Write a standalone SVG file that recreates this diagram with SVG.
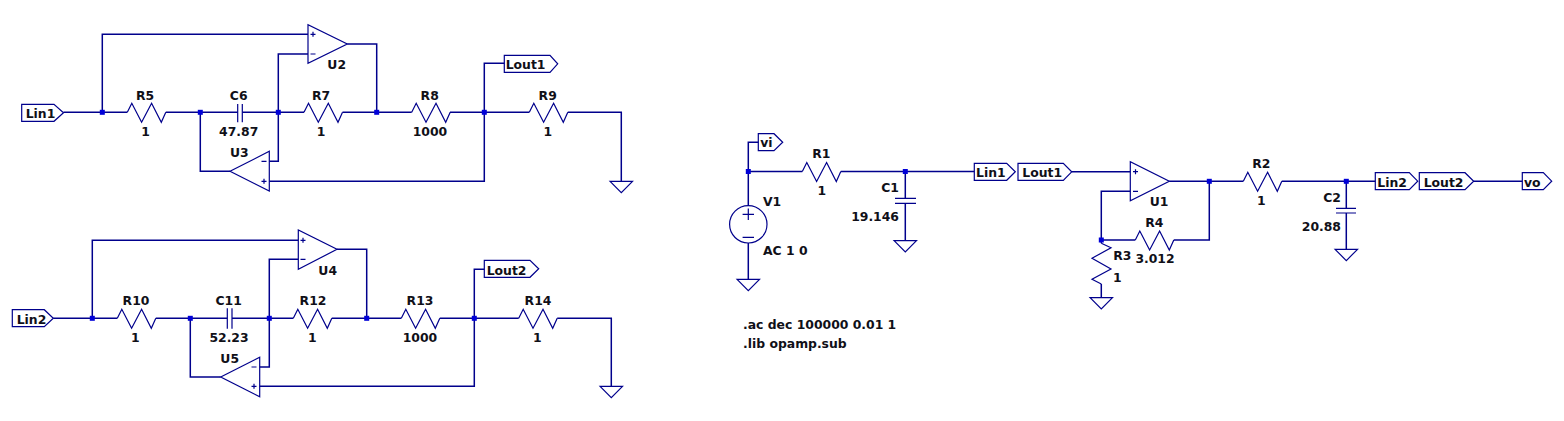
<svg xmlns="http://www.w3.org/2000/svg" width="1564" height="421" viewBox="0 0 1564 421">
<style>
.w{fill:none;stroke:#00008c;stroke-width:1.2}
#connectors path{stroke-width:1.5}
.j{fill:#0000d8;stroke:none}
text{font-family:"DejaVu Sans",Verdana,sans-serif;font-weight:bold;font-size:12.4px;fill:#101018}
.m{text-anchor:middle}
.e{text-anchor:end}
</style>
<defs>
<path id="r" class="w" d="M0 0L4.5-9L14.3 10L24.3-9L34 10L38.5 0"/>
<path id="g" class="w" d="M-11.2 0H11.2L0 11.3Z"/>
<rect id="d" class="j" x="-2.5" y="-2.5" width="5" height="5"/>
</defs>
<rect width="1564" height="421" fill="#fff"/>
<g id="connectors" class="w">
<path d="M63.5 112.3H127.3M165.8 112.3H237.7M242.3 112.3H304M342.5 112.3H411.7M450 112.3H529.3M567.8 112.3H621.3V181.3"/>
<path d="M102.3 112.3V34.3H308M308 54H278.3V161.3H269.3M347.3 44H376.7V112.3"/>
<path d="M200.3 112.3V171.3H230M269.3 181.3H484.3V63.3H504.3"/>
<path d="M53.3 318.3H117.3M155.8 318.3H227.3M232 318.3H293.3M331.8 318.3H401.3M439.8 318.3H518.7M557.2 318.3H611.3V386.3"/>
<path d="M92.3 318.3V240.3H298.3M298.3 259.3H269.3V367H259.7M337 249.3H366.7V318.3"/>
<path d="M190.3 318.3V377H220.7M259.7 386.3H474.3V269.3H484.3"/>
<path d="M758.3 142.3H748.3V205M748.3 243V279.3M748.3 171.5H802.3M840.8 171.5H974.3M905.3 171.5V198.3M905.3 203.3V240.7"/>
<path d="M1071.7 171.7H1130.3M1130.3 191.3H1101.3V243.3M1101.3 240H1135.3M1173.8 240H1209.3V181.3M1169.3 181.3H1243.3M1281.8 181.3H1375.3M1346.3 181.3V208.3M1346.3 213V249.3"/>
<path d="M1101.3 284V297.7M1473.7 181.3H1522.3"/>
</g>
<g id="junctions">
<use href="#d" x="102.3" y="112.3"/><use href="#d" x="200.3" y="112.3"/><use href="#d" x="278.3" y="112.3"/><use href="#d" x="376.7" y="112.3"/><use href="#d" x="484.3" y="112.3"/>
<use href="#d" x="92.3" y="318.3"/><use href="#d" x="190.3" y="318.3"/><use href="#d" x="269.3" y="318.3"/><use href="#d" x="366.7" y="318.3"/><use href="#d" x="474.3" y="318.3"/>
<use href="#d" x="748.3" y="171.5"/><use href="#d" x="905.3" y="171.5"/><use href="#d" x="1101.3" y="240"/><use href="#d" x="1209.3" y="181.3"/><use href="#d" x="1346.3" y="181.3"/>
</g>
<g id="Lin1a"><path class="w" d="M21.7 104.3H54L63.5 112.8L54 121.3H21.7Z"/><text x="25.7" y="117.7">Lin1</text></g>
<g id="Lout1a"><path class="w" d="M504.3 55.3H550L557.7 63.8L550 72.3H504.3Z"/><text x="505.7" y="69">Lout1</text></g>
<g id="Lin2a"><path class="w" d="M12.3 309.7H44.3L53.3 318.2L44.3 326.7H12.3Z"/><text x="16.7" y="324">Lin2</text></g>
<g id="Lout2a"><path class="w" d="M484.3 260.3H530L538.7 268.8L530 277.3H484.3Z"/><text x="486.7" y="275">Lout2</text></g>
<g id="vi"><path class="w" d="M758.3 133.7H774L782.7 142.2L774 150.7H758.3Z"/><text x="760.3" y="147.3">vi</text></g>
<g id="Lin1b"><path class="w" d="M974.3 163.3H1006.7L1015.3 171.8L1006.7 180.3H974.3Z"/><text x="976" y="177.3">Lin1</text></g>
<g id="Lout1b"><path class="w" d="M1018 163.3H1063.3L1071.7 171.8L1063.3 180.3H1018Z"/><text x="1022.3" y="176.7">Lout1</text></g>
<g id="Lin2b"><path class="w" d="M1375.3 172.7H1409.3L1417.7 181.2L1409.3 189.7H1375.3Z"/><text x="1377.3" y="186.7">Lin2</text></g>
<g id="Lout2b"><path class="w" d="M1419.3 172.7H1465L1473.7 181.2L1465 189.7H1419.3Z"/><text x="1423.7" y="186.7">Lout2</text></g>
<g id="vo"><path class="w" d="M1522.3 172.7H1543.3L1551.7 181.2L1543.3 189.7H1522.3Z"/><text x="1524" y="186.7">vo</text></g>
<g id="R5"><use href="#r" x="127.3" y="112.3"/><text class="m" x="145" y="100">R5</text><text class="m" x="145.5" y="136">1</text></g>
<g id="C6"><path class="w" d="M237.7 104V122.3M242.3 104V122.3"/><text class="m" x="238.7" y="100">C6</text><text class="m" x="238.7" y="136">47.87</text></g>
<g id="R7"><use href="#r" x="304" y="112.3"/><text class="m" x="321" y="100">R7</text><text class="m" x="321" y="136">1</text></g>
<g id="R8"><use href="#r" x="411.7" y="112.3"/><text class="m" x="429.7" y="100">R8</text><text class="m" x="430" y="136">1000</text></g>
<g id="R9"><use href="#r" x="529.3" y="112.3"/><text class="m" x="547.7" y="100">R9</text><text class="m" x="547.7" y="136">1</text></g>
<g id="U2"><path class="w" d="M308 24.7V63.3L347.3 44ZM310.5 34.3H315.5M313 31.8V36.8M310.5 54H315.5"/><text class="m" x="336.7" y="69">U2</text></g>
<g id="U3"><path class="w" d="M230 171.3L269.3 151.3V191ZM261.5 161.3H266.5M261.5 181.3H266.5M264 178.8V183.8"/><text class="m" x="239.3" y="157">U3</text></g>
<g id="GND1"><use href="#g" x="621.3" y="181.3"/></g>
<g id="R10"><use href="#r" x="117.3" y="318.3"/><text class="m" x="136" y="305">R10</text><text class="m" x="135.3" y="341.7">1</text></g>
<g id="C11"><path class="w" d="M227.3 308.3V328.7M232 308.3V328.7"/><text class="m" x="228.7" y="305">C11</text><text class="m" x="229" y="341.7">52.23</text></g>
<g id="R12"><use href="#r" x="293.3" y="318.3"/><text class="m" x="313" y="305">R12</text><text class="m" x="312.3" y="341.7">1</text></g>
<g id="R13"><use href="#r" x="401.3" y="318.3"/><text class="m" x="420" y="305">R13</text><text class="m" x="420" y="342">1000</text></g>
<g id="R14"><use href="#r" x="518.7" y="318.3"/><text class="m" x="538" y="305">R14</text><text class="m" x="537.3" y="342">1</text></g>
<g id="U4"><path class="w" d="M298.3 230V269.3L337 249.3ZM300.5 240.3H305.5M303 237.8V242.8M300.5 259.3H305.5"/><text class="m" x="327.7" y="274.7">U4</text></g>
<g id="U5"><path class="w" d="M220.7 377L259.7 357.3V396.7ZM251.5 367H256.5M251.5 386.3H256.5M254 383.8V388.8"/><text class="m" x="229.7" y="363.3">U5</text></g>
<g id="GND2"><use href="#g" x="611.3" y="386.3"/></g>
<g id="V1"><circle class="w" cx="748.3" cy="224.3" r="18.7"/><path class="w" d="M742.6 214.3H754M748.3 208.6V220M742.6 237.3H754"/><text x="763" y="206">V1</text><text x="763" y="255">AC 1 0</text></g>
<g id="GND3"><use href="#g" x="748.3" y="279.3"/></g>
<g id="R1"><use href="#r" x="802.3" y="171.5"/><text class="m" x="821.3" y="158">R1</text><text class="m" x="821.7" y="195">1</text></g>
<g id="C1"><path class="w" d="M895 198.3H916M895 203.3H916"/><text class="e" x="899" y="192">C1</text><text class="e" x="899" y="221">19.146</text></g>
<g id="GND4"><use href="#g" x="905.3" y="240.7"/></g>
<g id="U1"><path class="w" d="M1130.3 161.7V200.7L1169.3 181.3ZM1133 171.7H1138M1135.5 169.2V174.2M1133 191.3H1138"/><text class="m" x="1159" y="206">U1</text></g>
<g id="R4"><use href="#r" x="1135.3" y="240"/><text class="m" x="1154.3" y="227">R4</text><text class="m" x="1155" y="263">3.012</text></g>
<g id="R3"><path class="w" d="M1101.3 243.3L1111 247.7L1092 258.3L1111 269L1092 279.3L1101.3 284"/><text x="1113.3" y="259.7">R3</text><text class="m" x="1117.3" y="282">1</text></g>
<g id="GND5"><use href="#g" x="1101.3" y="297.7"/></g>
<g id="R2"><use href="#r" x="1243.3" y="181.3"/><text class="m" x="1261.3" y="168">R2</text><text class="m" x="1261.3" y="205">1</text></g>
<g id="C2"><path class="w" d="M1336 208.3H1356M1336 213H1356"/><text class="e" x="1341" y="201.7">C2</text><text class="e" x="1341" y="231">20.88</text></g>
<g id="GND6"><use href="#g" x="1346.3" y="249.3"/></g>
<g id="directives"><text x="743" y="329">.ac dec 100000 0.01 1</text><text x="743" y="348">.lib opamp.sub</text></g>
</svg>
